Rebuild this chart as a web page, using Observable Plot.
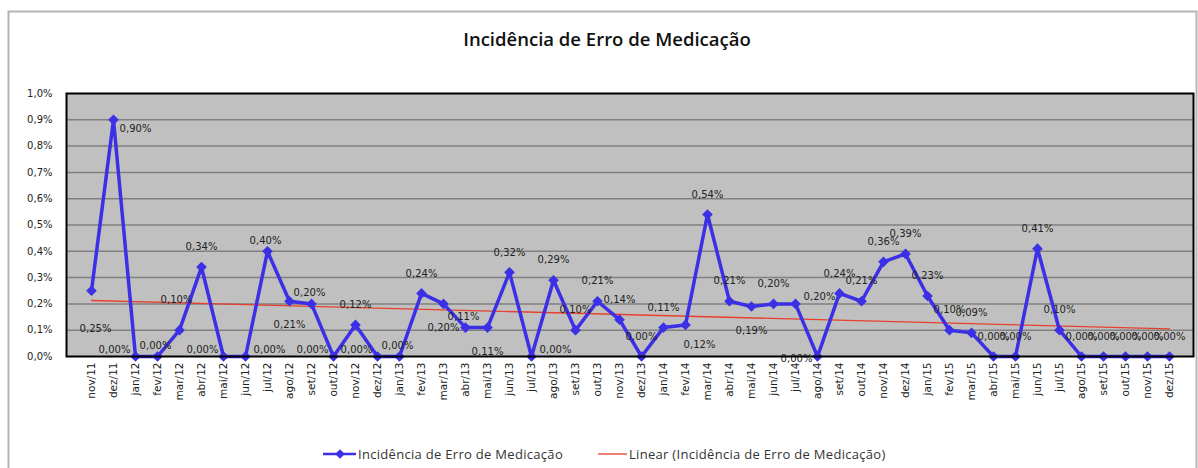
<!DOCTYPE html>
<html><head><meta charset="utf-8">
<script src="https://cdn.jsdelivr.net/npm/d3@7"></script>
<script src="https://cdn.jsdelivr.net/npm/@observablehq/plot@0.6"></script>
<style>
body{margin:0;background:#fff}
#chart{position:relative;width:1198px;height:468px;overflow:hidden}
</style>
</head><body><div id="chart"></div>
<script>
const title = "Incidência de Erro de Medicação";
const seriesName = "Incidência de Erro de Medicação";
const trendName = "Linear (Incidência de Erro de Medicação)";
const months = ["nov/11","dez/11",
  "jan/12","fev/12","mar/12","abr/12","mai/12","jun/12","jul/12","ago/12","set/12","out/12","nov/12","dez/12",
  "jan/13","fev/13","mar/13","abr/13","mai/13","jun/13","jul/13","ago/13","set/13","out/13","nov/13","dez/13",
  "jan/14","fev/14","mar/14","abr/14","mai/14","jun/14","jul/14","ago/14","set/14","out/14","nov/14","dez/14",
  "jan/15","fev/15","mar/15","abr/15","mai/15","jun/15","jul/15","ago/15","set/15","out/15","nov/15","dez/15"];
// incidence, in percent
const values = [0.25,0.90,
  0.00,0.00,0.10,0.34,0.00,0.00,0.40,0.21,0.20,0.00,0.12,0.00,
  0.00,0.24,0.20,0.11,0.11,0.32,0.00,0.29,0.10,0.21,0.14,0.00,
  0.11,0.12,0.54,0.21,0.19,0.20,0.20,0.00,0.24,0.21,0.36,0.39,
  0.23,0.10,0.09,0.00,0.00,0.41,0.10,0.00,0.00,0.00,0.00,0.00];
// data label placement codes (as set in the original chart)
const labelPos = ["bb","rb",
  "l","n","A","a","l","r","n","b","n","l","a","l",
  "n","a","b","n","b","a","r","a","a","a","a","a",
  "a","br","a","a","b","a","r","lb","a","a","a","a",
  "a","a","a","a","a","a","a","a","a","a","a","a"];
const yTicks = [0,0.1,0.2,0.3,0.4,0.5,0.6,0.7,0.8,0.9,1.0];

const offsets = {a:[0,-20], n:[-2,-11], A:[-3,-30], b:[0,24], br:[14,20], l:[-21,-7], lb:[-21,2], r:[24,-7], rb:[22,9], bb:[4,38]};

const data = months.map((m,i)=>({month:m, i, value:values[i], pos:labelPos[i]}));
const n = data.length;
const mx = d3.mean(data,d=>d.i), my = d3.mean(data,d=>d.value);
const slope = d3.sum(data,d=>(d.i-mx)*(d.value-my))/d3.sum(data,d=>(d.i-mx)**2);
const icpt = my - slope*mx;
const trend = [data[0], data[n-1]].map(d=>({month:d.month, value:icpt+slope*d.i}));

const fmt1 = v => v.toFixed(1).replace(".",",")+"%";
const fmt2 = v => v.toFixed(2).replace(".",",")+"%";
const BLUE = "#3b30e6", RED = "#e8402e";

const plot = Plot.plot({
  width:1198, height:468, marginLeft:66, marginRight:5, marginTop:93, marginBottom:112,
  style:{fontFamily:"DejaVu Sans", fontSize:"10px", color:"#222", background:"transparent", overflow:"visible"},
  x:{type:"point", domain:months, padding:0.5, label:null},
  y:{domain:[0,1], label:null},
  marks:[
    Plot.frame({fill:"#c0c0c0"}),
    Plot.ruleY(yTicks.filter(t=>t>0 && t<1), {stroke:"#808080", strokeWidth:1.5}),
    Plot.axisY({ticks:yTicks, tickFormat:fmt1, tickSize:0, tickPadding:14, label:null, fontSize:10}),
    Plot.axisX({tickSize:0, tickRotate:-90, tickPadding:6, label:null, fontSize:10.5}),
    Plot.line(trend, {x:"month", y:"value", stroke:RED, strokeWidth:1.3}),
    Plot.line(data, {x:"month", y:"value", stroke:BLUE, strokeWidth:3.5}),
    Plot.dot(data, {x:"month", y:"value", symbol:"diamond2", r:4.8, fill:BLUE, stroke:"none"}),
    ...Object.entries(offsets).map(([k,[dx,dy]]) => Plot.text(data.filter(d=>d.pos===k),
      {x:"month", y:"value", text:d=>fmt2(d.value), dx, dy, fill:"#222", fontSize:10})),
    Plot.frame({stroke:"#000", strokeWidth:2})
  ]
});
document.getElementById("chart").appendChild(plot);

const svg = d3.select(plot);
svg.insert("rect",":first-child").attr("x",8.5).attr("y",11.5).attr("width",1188).attr("height",470)
  .attr("fill","none").attr("stroke","#b4b4b4").attr("stroke-width",2);
svg.append("text").attr("x",607).attr("y",46).attr("text-anchor","middle")
  .attr("font-family","Open Sans").attr("font-weight",600).attr("font-size",18.5).attr("fill","#111").text(title);
const lg = svg.append("g").attr("font-family","Open Sans").attr("font-size",13)
  .attr("letter-spacing","0.3px").attr("fill","#333").attr("text-anchor","start");
const ly = 454;
lg.append("line").attr("x1",323).attr("x2",356).attr("y1",ly).attr("y2",ly).attr("stroke",BLUE).attr("stroke-width",2.5);
lg.append("path").attr("d",d3.symbol(d3.symbolDiamond2, 60)()).attr("transform",`translate(340,${ly})`).attr("fill",BLUE);
lg.append("text").attr("x",358).attr("y",ly).attr("dy","0.35em").text(seriesName);
lg.append("line").attr("x1",598).attr("x2",627).attr("y1",ly).attr("y2",ly).attr("stroke",RED).attr("stroke-width",1.3);
lg.append("text").attr("x",629).attr("y",ly).attr("dy","0.35em").text(trendName);
</script>
</body></html>
